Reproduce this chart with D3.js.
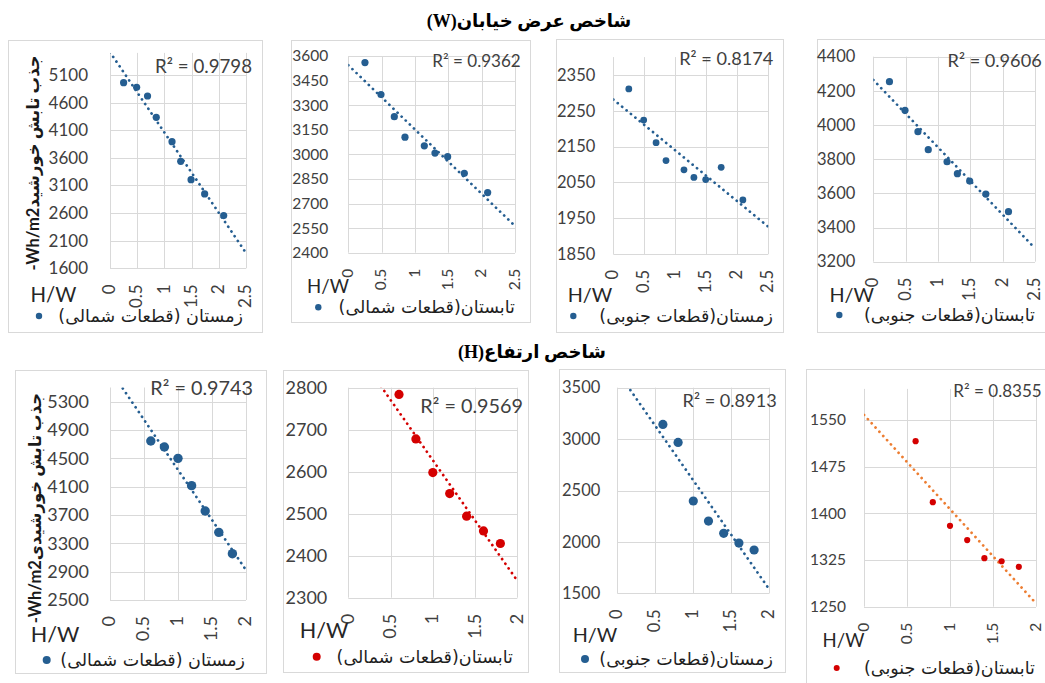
<!DOCTYPE html>
<html>
<head>
<meta charset="utf-8">
<script src="https://cdn.jsdelivr.net/npm/d3@7"></script>
<style>
  body { margin: 0; background: #fff; }
  svg { display: block; }
</style>
</head>
<body>
<svg id="chart" width="1045" height="683"></svg>
<script>
// H/W ratio of the sampled blocks
const hwStreetWidth = [0.25, 0.49, 0.69, 0.85, 1.14, 1.3, 1.49, 1.74, 2.09];
const hwBuildingHeight = [0.6, 0.8, 1.0, 1.2, 1.4, 1.6, 1.8];

// Solar radiation absorbed (Wh/m2), street width index (W)
const winterNorthW = [4960, 4877, 4720, 4334, 3893, 3537, 3205, 2946, 2554];
const summerNorthW = [3560, 3365, 3230, 3105, 3052, 3008, 2986, 2884, 2767];
const winterSouthW = [2311, 2224, 2161, 2111, 2085, 2064, 2058, 2092, 2001];
const summerSouthW = [4254, 4086, 3961, 3856, 3785, 3715, 3672, 3596, 3493];

// Solar radiation absorbed (Wh/m2), height index (H)
const winterNorthH = [4745, 4660, 4500, 4114, 3756, 3455, 3154];
const summerNorthH = [2784, 2678, 2598, 2548, 2494, 2459, 2429];
const winterSouthH = [3143, 2968, 2398, 2203, 2083, 1989, 1921];
const summerSouthH = [1516, 1418, 1380, 1357, 1328, 1323, 1314];

// Series names shown in each legend
const seriesNames = [
  "زمستان (قطعات شمالی)",
  "تابستان(قطعات شمالی)",
  "زمستان(قطعات جنوبی)",
  "تابستان(قطعات جنوبی)",
  "زمستان (قطعات شمالی)",
  "تابستان(قطعات شمالی)",
  "زمستان(قطعات جنوبی)",
  "تابستان(قطعات جنوبی)"
];

// Coefficient of determination of each linear trend
const r2Labels = ["0.9798", "0.9362", "0.8174", "0.9606", "0.9743", "0.9569", "0.8913", "0.8355"];

// Axis ticks and ranges
const xTicksW = [0, 0.5, 1, 1.5, 2, 2.5];
const xTicksH = [0, 0.5, 1, 1.5, 2];
const yTicks = [
  [1600, 2100, 2600, 3100, 3600, 4100, 4600, 5100],
  [2400, 2550, 2700, 2850, 3000, 3150, 3300, 3450, 3600],
  [1850, 1950, 2050, 2150, 2250, 2350],
  [3200, 3400, 3600, 3800, 4000, 4200, 4400],
  [2500, 2900, 3300, 3700, 4100, 4500, 4900, 5300],
  [2300, 2400, 2500, 2600, 2700, 2800],
  [1500, 2000, 2500, 3000, 3500],
  [1250, 1325, 1400, 1475, 1550]
];
const yDomains = [
  [1600, 5500], [2400, 3600], [1850, 2400], [3200, 4400],
  [2500, 5500], [2300, 2800], [1500, 3500], [1250, 1600]
];

const sectionTitles = ["شاخص عرض خیابان(W)", "شاخص ارتفاع(H)"];
const yTitles = ["-Wh/m2جذب تابش خورشید", "-Wh/m2جذب تابش خورشیدی"];
const xTitle = "H/W";

// ---- drawing ----
const BLUE = "#255e91", RED = "#d40000", ORANGE = "#ed7d31";
const GRID = "#d9d9d9";
const LATIN = "Lato, 'DejaVu Sans', sans-serif";
const PERSIAN = "'DejaVu Sans', sans-serif";

const panels = [
  { x: hwStreetWidth, y: winterNorthW, xt: xTicksW, c: BLUE, t: BLUE,
    frame: [8, 40, 262, 332], plot: [110, 246, 52.9, 268.3], fs: 17, pad: 22, r: 3.6, lr: 3.2,
    hw: [53.5, 301.7], leg: [39, 316, 243], r2: [252, 73] },
  { x: hwStreetWidth, y: summerNorthW, xt: xTicksW, c: BLUE, t: BLUE,
    frame: [291, 40, 530, 322], plot: [348.3, 515, 56, 252.7], fs: 15.5, pad: 20, r: 3.6, lr: 3.2,
    hw: [328, 293.3], leg: [318.3, 307.3, 515], r2: [520.7, 67] },
  { x: hwStreetWidth, y: winterSouthW, xt: xTicksW, c: BLUE, t: BLUE,
    frame: [556, 39, 783, 332], plot: [613.3, 768.3, 57.1, 254], fs: 16.5, pad: 18, r: 3.4, lr: 3.2,
    hw: [590, 301.7], leg: [573.3, 316, 773], r2: [773.3, 65] },
  { x: hwStreetWidth, y: summerSouthW, xt: xTicksW, c: BLUE, t: BLUE,
    frame: [817, 39, 1050, 332], plot: [873.3, 1035, 56.7, 261.7], fs: 16.5, pad: 18, r: 3.6, lr: 3.2,
    hw: [851.7, 301.7], leg: [839.3, 315, 1035], r2: [1041.7, 67] },
  { x: hwBuildingHeight, y: winterNorthH, xt: xTicksH, c: BLUE, t: BLUE,
    frame: [15, 370, 266, 673], plot: [110, 246, 387.5, 600], fs: 18, pad: 21, r: 4.7, lr: 4,
    hw: [55, 641.7], leg: [46.7, 660, 245], r2: [253, 395] },
  { x: hwBuildingHeight, y: summerNorthH, xt: xTicksH, c: RED, t: RED,
    frame: [283, 370, 528, 672], plot: [348.3, 517.3, 387.7, 597.7], fs: 18, pad: 21, r: 4.6, lr: 4,
    hw: [324, 638.3], leg: [316.7, 656.7, 513], r2: [523, 413] },
  { x: hwBuildingHeight, y: winterSouthH, xt: xTicksH, c: BLUE, t: BLUE,
    frame: [559, 369, 785, 672], plot: [617.3, 769.3, 387.7, 593.3], fs: 16.5, pad: 17, r: 4.6, lr: 4,
    hw: [595, 641.7], leg: [585, 659, 773], r2: [776.7, 407] },
  { x: hwBuildingHeight, y: summerSouthH, xt: xTicksH, c: RED, t: ORANGE,
    frame: [806, 369, 1050, 690], plot: [864, 1036, 388.9, 606.7], fs: 15.5, pad: 18, r: 3.1, lr: 3,
    hw: [843.5, 646.7], leg: [836.7, 668, 1035], r2: [1041.7, 397] }
];

const svg = d3.select("#chart");

// Right-align a text element at xr after measuring it
function alignRight(sel, xr) {
  const w = sel.node().getBBox().width;
  sel.attr("text-anchor", "middle").attr("x", xr - w / 2);
}

function linearFit(xs, ys) {
  const mx = d3.mean(xs), my = d3.mean(ys);
  let sxy = 0, sxx = 0;
  xs.forEach((x, i) => { sxy += (x - mx) * (ys[i] - my); sxx += (x - mx) * (x - mx); });
  const b = sxy / sxx;
  return { a: my - b * mx, b };
}

panels.forEach((p, i) => {
  const g = svg.append("g");
  const [fx0, fy0, fx1, fy1] = p.frame;
  g.append("rect")
    .attr("x", fx0 + 0.5).attr("y", fy0 + 0.5)
    .attr("width", fx1 - fx0).attr("height", fy1 - fy0)
    .attr("fill", "#fff").attr("stroke", GRID).attr("stroke-width", 1);

  const [px0, px1, py0, py1] = p.plot;
  const xs = d3.scaleLinear().domain([p.xt[0], p.xt[p.xt.length - 1]]).range([px0, px1]);
  const ys = d3.scaleLinear().domain(yDomains[i]).range([py1, py0]);

  // Gridlines (axis lines share the grid colour)
  g.append("g").selectAll("line").data(yTicks[i]).join("line")
    .attr("x1", px0).attr("x2", px1)
    .attr("y1", d => Math.round(ys(d)) + 0.5).attr("y2", d => Math.round(ys(d)) + 0.5)
    .attr("stroke", GRID);
  g.append("g").selectAll("line").data(p.xt).join("line")
    .attr("y1", py0).attr("y2", py1)
    .attr("x1", d => Math.round(xs(d)) + 0.5).attr("x2", d => Math.round(xs(d)) + 0.5)
    .attr("stroke", GRID);

  // Y tick labels
  const yAxis = d3.axisLeft(ys).tickValues(yTicks[i]).tickSize(0).tickPadding(p.pad).tickFormat(d3.format("d"));
  const ya = g.append("g").attr("transform", `translate(${px0},0)`).call(yAxis);
  ya.select(".domain").remove();
  ya.selectAll("text").attr("font-family", LATIN).attr("font-size", p.fs).attr("fill", "#404040");

  // X tick labels, rotated
  g.append("g").selectAll("text").data(p.xt).join("text")
    .attr("transform", d => `translate(${xs(d) - 1},${py1 + 16}) rotate(-90)`)
    .attr("text-anchor", "end").attr("dy", "0.36em")
    .attr("font-family", LATIN).attr("font-size", p.fs).attr("fill", "#404040")
    .text(d => d3.format("~g")(d));

  // Trendline across the axis range, clipped to the plot area
  const clipId = "clip" + i;
  g.append("clipPath").attr("id", clipId).append("rect")
    .attr("x", px0).attr("y", py0).attr("width", px1 - px0).attr("height", py1 - py0);
  const fit = linearFit(p.x, p.y);
  const xr = xs.domain();
  g.append("line")
    .attr("clip-path", `url(#${clipId})`)
    .attr("x1", xs(xr[0])).attr("y1", ys(fit.a + fit.b * xr[0]))
    .attr("x2", xs(xr[1])).attr("y2", ys(fit.a + fit.b * xr[1]))
    .attr("stroke", p.t).attr("stroke-width", 2.7)
    .attr("stroke-linecap", "round").attr("stroke-dasharray", "0.1 5.6");

  // Points
  g.append("g").selectAll("circle").data(p.x.map((x, k) => [x, p.y[k]])).join("circle")
    .attr("cx", d => xs(d[0])).attr("cy", d => ys(d[1])).attr("r", p.r).attr("fill", p.c);

  // R² label
  const r2 = g.append("text")
    .attr("y", p.r2[1]).attr("font-family", LATIN).attr("font-size", p.fs * 1.1).attr("fill", "#404040")
    .text("R² = " + r2Labels[i]);
  alignRight(r2, p.r2[0]);

  // Axis title H/W
  g.append("text").attr("x", p.hw[0]).attr("y", p.hw[1]).attr("text-anchor", "middle")
    .attr("font-family", LATIN).attr("font-size", p.fs * 1.2).attr("fill", "#262626")
    .text(xTitle);

  // Legend
  g.append("circle").attr("cx", p.leg[0]).attr("cy", p.leg[1]).attr("r", p.lr).attr("fill", p.c);
  const lt = g.append("text")
    .attr("y", p.leg[1] + 6).attr("direction", "rtl")
    .attr("font-family", PERSIAN).attr("font-size", 17.5).attr("fill", "#1f1f1f")
    .text(seriesNames[i]);
  alignRight(lt, p.leg[2]);
});

// Vertical axis titles on the first panel of each row
[[33, 163], [35, 508]].forEach((pos, k) => {
  svg.append("text")
    .attr("transform", `translate(${pos[0]},${pos[1]}) rotate(-90)`)
    .attr("text-anchor", "middle").attr("dy", "0.35em").attr("direction", "ltr")
    .attr("font-family", LATIN).attr("font-weight", "bold").attr("font-size", 16.5).attr("fill", "#1a1a1a")
    .text(yTitles[k]);
});

// Section titles
[[529, 21], [532, 352]].forEach((pos, k) => {
  svg.append("text")
    .attr("x", pos[0]).attr("y", pos[1]).attr("dy", "0.35em")
    .attr("text-anchor", "middle").attr("direction", "rtl")
    .attr("font-family", "'Liberation Serif', 'DejaVu Sans', serif").attr("font-weight", "bold")
    .attr("font-size", 18).attr("fill", "#000")
    .text(sectionTitles[k]);
});
</script>
</body>
</html>
